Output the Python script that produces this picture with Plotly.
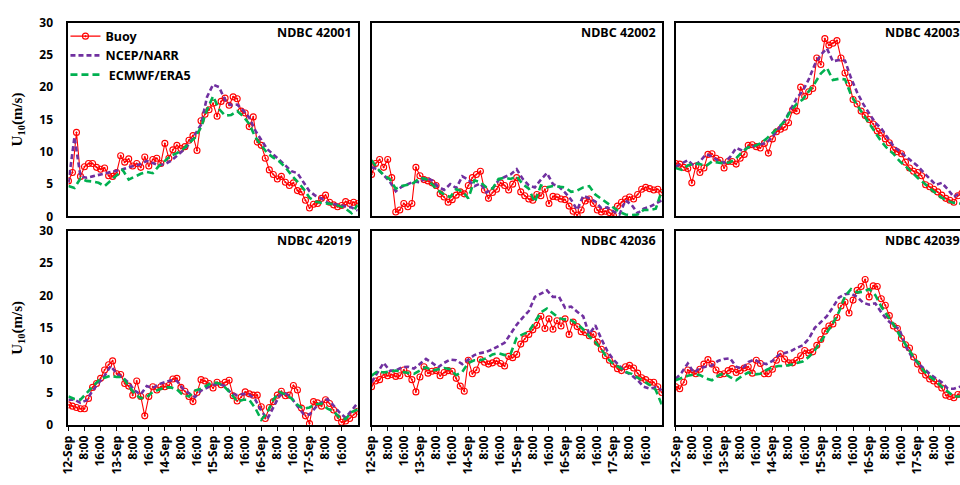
import plotly.graph_objects as go
from plotly.subplots import make_subplots

# ---- time base: 12-Sep 00:00 (hour 0) to 18-Sep 00:00 (hour 144) ----
BUOY_HOURS = list(range(0, 145, 2))     # buoy record, 2-hourly
MODEL_HOURS = list(range(0, 145, 3))    # reanalysis output, 3-hourly

TICK_HOURS = list(range(0, 137, 8))
TICK_TEXT = ["12-Sep", "8:00", "16:00", "13-Sep", "8:00", "16:00",
             "14-Sep", "8:00", "16:00", "15-Sep", "8:00", "16:00",
             "16-Sep", "8:00", "16:00", "17-Sep", "8:00", "16:00"]

STATIONS = ["NDBC 42001", "NDBC 42002", "NDBC 42003",
            "NDBC 42019", "NDBC 42036", "NDBC 42039"]

# ---- U10 wind speed (m/s) ----
buoy_42001 = [5.5, 6.8, 13.0, 6.2, 7.7, 8.2, 8.2, 7.6, 7.3, 7.5, 6.3, 6.2,
              6.8, 9.4, 8.4, 8.9, 7.8, 8.2, 7.6, 9.2, 7.8, 8.8, 9.0, 8.2,
              11.3, 9.0, 10.3, 11.0, 10.5, 10.8, 11.8, 12.5, 10.2, 14.8, 15.8, 16.5,
              17.5, 15.5, 17.8, 18.3, 17.2, 18.5, 18.2, 16.3, 16.0, 13.9, 15.4, 11.5,
              11.0, 9.0, 7.2, 6.5, 5.8, 6.2, 5.3, 4.8, 5.2, 4.0, 3.8, 2.5,
              1.3, 1.9, 2.0, 2.8, 3.3, 2.2, 1.8, 1.5, 1.7, 2.3, 2.0, 2.2,
              2.0]
narr_42001 = [5.2, 12.3, 6.2, 6.0, 6.2, 6.4, 6.6, 6.9,
              7.1, 7.3, 7.6, 7.9, 8.1, 8.6, 8.3, 7.9,
              8.1, 8.6, 9.4, 10.2, 11.2, 12.6, 14.2, 18.5,
              20.4, 20.0, 18.0, 17.2, 17.3, 16.4, 15.3, 13.3,
              11.8, 10.4, 9.6, 8.8, 7.9, 7.0, 6.7, 5.3,
              3.9, 3.2, 2.8, 2.1, 1.9, 1.8, 1.6, 1.4,
              0.9]
era5_42001 = [4.7, 4.4, 5.9, 5.5, 5.4, 5.2, 4.7, 5.5,
              6.3, 7.2, 5.7, 6.2, 6.6, 6.9, 6.7, 7.8,
              8.6, 9.4, 9.8, 10.4, 11.3, 12.2, 13.8, 16.5,
              18.6, 16.6, 15.6, 15.7, 16.3, 15.5, 14.3, 12.3,
              11.0, 9.8, 9.1, 8.5, 7.6, 6.4, 5.4, 4.3,
              2.9, 2.3, 2.1, 2.0, 1.9, 1.6, 1.2, 0.5,
              1.8]

buoy_42002 = [6.5, 8.2, 8.8, 7.6, 8.8, 6.0, 0.7, 1.0, 2.0, 1.5, 2.0, 7.6,
              6.3, 5.7, 5.5, 5.2, 4.8, 3.5, 3.0, 2.2, 2.6, 3.3, 3.8, 3.5,
              4.8, 6.0, 6.5, 7.0, 4.1, 2.8, 3.7, 4.2, 5.2, 4.8, 4.1, 5.0,
              6.0, 3.8, 3.2, 2.7, 2.5, 3.4, 3.2, 4.2, 2.0, 3.1, 3.0, 2.7,
              2.6, 1.6, 0.8, 0.2, 1.0, 2.4, 2.7, 2.0, 1.0, 0.7, 0.8, 0.6,
              0.1, 1.6, 2.2, 2.7, 3.0, 2.7, 3.4, 4.2, 4.5, 4.3, 4.1, 4.2,
              3.7]
narr_42002 = [7.6, 7.3, 6.4, 5.4, 3.9, 4.6, 5.0, 5.4,
              5.3, 6.0, 5.6, 4.6, 4.1, 5.0, 4.4, 6.2,
              5.7, 4.7, 5.1, 3.7, 4.3, 5.6, 6.1, 6.5,
              7.3, 5.8, 4.8, 4.5, 5.7, 6.7, 5.0, 4.6,
              3.7, 2.6, 1.0, 3.2, 2.8, 2.3, 1.3, 1.4,
              0.8, 0.3, 2.5, 1.8, 0.5, 1.2, 1.5, 2.0,
              2.5]
era5_42002 = [8.7, 7.4, 6.4, 5.8, 4.3, 4.7, 4.9, 5.2,
              6.0, 5.8, 5.0, 4.0, 3.4, 3.0, 4.2, 3.9,
              2.8, 5.6, 5.3, 4.5, 4.3, 5.8, 6.0, 5.8,
              6.2, 5.0, 4.3, 2.2, 4.8, 4.5, 4.7, 4.6,
              4.5, 3.8, 4.0, 4.5, 4.7, 3.4, 2.7, 2.0,
              1.3, 0.7, 0.3, 0.2, 0.3, 1.0, 1.0, 1.2,
              4.0]

buoy_42003 = [8.2, 8.1, 7.6, 7.4, 5.2, 7.8, 6.8, 7.5, 9.6, 9.7, 9.0, 8.7,
              7.5, 8.5, 8.5, 8.1, 9.0, 9.6, 11.0, 11.1, 10.8, 10.6, 11.3, 9.8,
              12.0, 13.1, 13.5, 13.8, 14.5, 16.5, 16.3, 20.0, 18.6, 19.3, 19.8, 24.5,
              23.5, 27.5, 26.5, 26.8, 27.2, 24.5, 22.2, 20.6, 18.1, 17.4, 16.3, 15.6,
              15.0, 14.3, 13.2, 12.9, 12.0, 11.4, 10.3, 10.0, 9.7, 8.4, 7.5, 7.0,
              6.8, 6.3, 4.9, 4.6, 4.2, 3.8, 3.3, 2.8, 2.5, 2.2, 3.2, 3.6,
              3.8]
narr_42003 = [7.7, 8.2, 8.7, 7.8, 8.5, 9.6, 9.3, 8.6,
              8.3, 9.2, 10.6, 10.2, 10.7, 10.9, 11.2, 11.4,
              12.3, 13.5, 14.8, 16.5, 18.3, 19.4, 21.2, 23.5,
              25.0, 26.0, 24.0, 24.2, 24.1, 21.4, 19.2, 17.4,
              15.9, 14.5, 13.6, 12.3, 10.9, 10.1, 9.3, 8.6,
              7.8, 6.8, 5.8, 4.9, 5.2, 4.2, 3.0, 3.7,
              3.5]
era5_42003 = [7.5, 7.2, 7.9, 8.2, 8.1, 7.8, 8.5, 8.3,
              8.2, 8.4, 9.0, 10.0, 10.7, 10.9, 11.3, 12.0,
              12.9, 13.8, 14.7, 16.3, 17.4, 18.1, 19.3, 20.6,
              22.1, 23.0, 21.1, 21.3, 21.2, 18.8, 17.2, 15.8,
              14.4, 13.0, 11.6, 10.5, 9.7, 8.6, 7.8, 6.9,
              6.0, 5.2, 4.3, 3.6, 2.9, 2.4, 2.1, 2.0,
              2.2]

buoy_42019 = [3.1, 2.9, 2.7, 2.5, 2.5, 4.1, 5.8, 6.4, 7.2, 8.5, 9.3, 9.9,
              7.9, 7.8, 6.4, 6.0, 4.6, 6.8, 4.4, 1.4, 4.4, 5.9, 5.4, 5.9,
              5.9, 6.1, 7.1, 7.2, 5.8, 5.2, 4.4, 3.6, 5.0, 7.0, 6.8, 6.4,
              5.7, 6.6, 6.2, 6.6, 6.9, 4.5, 3.7, 4.3, 5.1, 4.8, 4.6, 4.6,
              2.8, 1.0, 2.7, 3.6, 4.6, 5.2, 4.5, 4.6, 6.1, 5.4, 2.6, 1.4,
              0.2, 3.6, 3.4, 2.9, 3.9, 3.3, 2.3, 1.1, 0.4, 0.6, 1.0, 1.6,
              2.1]
narr_42019 = [3.9, 3.9, 3.4, 3.8, 5.3, 6.5, 7.6, 9.1,
              8.0, 7.3, 6.5, 5.3, 4.7, 6.0, 5.7, 6.3,
              6.6, 6.9, 6.8, 5.6, 4.9, 4.3, 5.3, 5.8,
              6.2, 6.3, 6.0, 4.9, 4.6, 4.8, 4.7, 3.9,
              2.2, 0.9, 2.6, 4.5, 4.9, 4.2, 2.9, 1.7,
              1.6, 2.7, 3.5, 4.0, 3.0, 1.9, 1.1, 2.2,
              3.4]
era5_42019 = [4.4, 4.0, 3.9, 4.9, 6.0, 6.9, 7.3, 7.6,
              7.4, 7.4, 6.0, 4.8, 4.1, 4.3, 5.1, 5.5,
              5.8, 5.8, 5.5, 4.6, 4.4, 5.3, 5.6, 6.1,
              6.6, 6.4, 5.8, 4.8, 3.6, 3.9, 3.9, 2.6,
              0.8, 1.9, 3.9, 5.1, 4.7, 4.1, 3.1, 2.5,
              2.7, 3.2, 3.3, 2.5, 2.1, 1.1, 0.9, 2.0,
              2.4]

buoy_42036 = [5.9, 6.8, 7.0, 7.8, 7.6, 7.8, 7.5, 7.6, 8.5, 7.9, 7.0, 5.1,
              7.4, 9.0, 8.0, 8.3, 8.4, 7.6, 8.1, 8.4, 8.3, 7.2, 6.0, 5.2,
              10.0, 7.9, 8.5, 10.1, 9.7, 9.4, 9.6, 9.9, 9.5, 9.1, 10.6, 10.4,
              10.9, 12.5, 13.3, 14.0, 14.7, 15.4, 16.8, 14.9, 16.4, 14.8, 16.1, 15.3,
              16.4, 14.0, 15.9, 15.2, 14.4, 14.3, 13.8, 14.0, 12.8, 11.7, 10.7, 10.0,
              9.4, 8.7, 8.4, 9.0, 9.2, 8.8, 8.0, 7.3, 7.0, 6.6, 6.6, 5.9,
              5.0]
narr_42036 = [6.6, 8.0, 9.6, 8.4, 8.4, 8.9, 9.0, 8.7,
              9.4, 10.2, 9.6, 8.9, 9.6, 10.1, 10.0, 9.4,
              10.1, 10.8, 11.1, 11.3, 11.7, 12.2, 12.7, 14.1,
              15.5, 16.6, 17.6, 19.8, 20.3, 20.8, 19.8, 19.8,
              18.1, 18.3, 17.5, 16.8, 14.0, 15.4, 13.3, 11.4,
              10.1, 9.1, 8.2, 7.7, 6.9, 5.9, 5.6, 5.8,
              5.4]
era5_42036 = [7.6, 8.3, 8.1, 8.3, 8.4, 8.2, 8.1, 7.9,
              8.4, 8.9, 8.4, 8.6, 8.8, 8.6, 7.7, 8.2,
              9.6, 10.0, 10.0, 10.3, 10.9, 11.1, 10.8, 11.0,
              13.5, 14.0, 14.4, 15.9, 17.4, 18.0, 17.3, 16.5,
              16.3, 16.2, 15.6, 14.8, 13.7, 12.8, 11.7, 10.3,
              9.4, 8.9, 8.2, 7.9, 7.3, 6.7, 6.2, 5.4,
              3.1]

buoy_42039 = [5.9, 5.6, 6.6, 8.5, 8.1, 7.9, 8.6, 9.4, 10.1, 9.4, 8.5, 7.8,
              7.9, 8.4, 8.7, 8.1, 8.4, 8.8, 9.0, 8.0, 10.0, 9.5, 7.9, 7.9,
              8.6, 10.0, 11.0, 10.2, 9.6, 9.6, 10.0, 10.7, 11.5, 11.1, 11.3, 12.3,
              13.2, 14.5, 15.3, 15.6, 16.6, 18.4, 19.0, 17.3, 19.3, 20.8, 21.4, 22.5,
              19.8, 21.5, 21.4, 19.5, 18.5, 16.9, 15.3, 14.9, 13.4, 12.4, 11.9, 10.5,
              9.4, 8.4, 7.7, 7.1, 6.8, 6.3, 5.7, 4.6, 4.4, 4.2, 4.7, 4.8,
              5.0]
narr_42039 = [7.1, 8.1, 9.5, 8.1, 8.8, 9.0, 9.2, 9.9,
              10.2, 10.3, 9.0, 8.7, 9.7, 10.1, 9.6, 9.4,
              9.9, 10.8, 11.1, 11.4, 11.9, 12.3, 13.3, 15.0,
              15.9, 16.8, 18.2, 19.7, 20.2, 20.3, 19.8, 18.9,
              18.6, 18.8, 17.4, 16.2, 15.4, 14.8, 12.2, 10.6,
              9.6, 8.7, 7.9, 7.2, 6.6, 5.6, 5.6, 5.9,
              6.0]
era5_42039 = [6.9, 7.3, 7.6, 7.8, 7.7, 7.2, 6.9, 7.6,
              8.0, 7.4, 6.9, 7.6, 8.1, 7.8, 7.9, 8.5,
              8.9, 9.1, 9.1, 9.3, 9.5, 9.8, 10.5, 11.5,
              12.9, 14.3, 15.7, 17.5, 19.9, 21.0, 20.5, 20.6,
              21.0, 20.1, 18.3, 16.9, 15.6, 13.9, 12.4, 11.0,
              9.7, 8.4, 7.5, 6.8, 5.9, 5.1, 4.4, 4.4,
              4.5]

BUOY = [buoy_42001, buoy_42002, buoy_42003, buoy_42019, buoy_42036, buoy_42039]
NARR = [narr_42001, narr_42002, narr_42003, narr_42019, narr_42036, narr_42039]
ERA5 = [era5_42001, era5_42002, era5_42003, era5_42019, era5_42036, era5_42039]

for series in BUOY:
    assert len(series) == len(BUOY_HOURS), len(series)
for series in NARR + ERA5:
    assert len(series) == len(MODEL_HOURS), len(series)

RED = "#ff0000"
PURPLE = "#7030a0"
GREEN = "#00b050"
SANS = "Noto Sans"
SERIF = "Liberation Serif"

W, H = 960, 485
# panel frames in pixels: (left, right) per column, (top, bottom) per row
COLS = [(60, 352), (366, 659), (673, 966)]
ROWS = [(14, 215), (230, 431)]

fig = make_subplots(rows=2, cols=3)

for i in range(6):
    r, c = divmod(i, 3)
    first = (i == 0)
    fig.add_trace(go.Scatter(
        x=BUOY_HOURS, y=BUOY[i], name="Buoy", mode="lines+markers",
        line=dict(color=RED, width=1.1),
        marker=dict(symbol="circle-open-dot", size=6, color=RED,
                    line=dict(color=RED, width=1.1)),
        showlegend=first, legendrank=1), row=r + 1, col=c + 1)
    fig.add_trace(go.Scatter(
        x=MODEL_HOURS, y=NARR[i], name="NCEP/NARR", mode="lines",
        line=dict(color=PURPLE, width=2.6, dash="5px,3px"),
        showlegend=first, legendrank=2), row=r + 1, col=c + 1)
    fig.add_trace(go.Scatter(
        x=MODEL_HOURS, y=ERA5[i], name="\u00a0ECMWF/ERA5", mode="lines",
        line=dict(color=GREEN, width=2.6, dash="7px,4px"),
        showlegend=first, legendrank=3), row=r + 1, col=c + 1)

annotations = []
for i in range(6):
    r, c = divmod(i, 3)
    left, right = COLS[c]
    top, bottom = ROWS[r]
    visible_right = min(right, W)
    x_span = 144 * (visible_right - left) / (right - left)
    suffix = "" if i == 0 else str(i + 1)
    xa = dict(
        anchor="y" + suffix,
        domain=[left / W, visible_right / W], range=[0, x_span],
        showgrid=False, zeroline=False,
        showline=True, linecolor="black", linewidth=2, mirror=True,
        tickmode="array", tickvals=TICK_HOURS, ticktext=TICK_TEXT,
        showticklabels=(r == 1), ticks="outside" if r == 1 else "",
        ticklen=4, tickcolor="black", tickwidth=1, tickangle=-90,
        tickfont=dict(family=SANS, size=12, color="black", weight="bold"),
    )
    ya = dict(
        anchor="x" + suffix,
        domain=[1 - bottom / H, 1 - top / H], range=[0, 30],
        showgrid=False, zeroline=False,
        showline=True, linecolor="black", linewidth=2, mirror=(right <= W),
        tickmode="array", tickvals=[0, 5, 10, 15, 20, 25, 30],
        showticklabels=(c == 0), ticks="", ticklabelstandoff=11,
        tickfont=dict(family=SANS, size=12, color="black", weight="bold"),
    )
    if c == 0:
        ya["title"] = dict(text="U<sub>10</sub>(m/s)", standoff=13,
                           font=dict(family=SERIF, size=15, color="black",
                                     weight="bold"))
    fig.layout["xaxis" + suffix] = xa
    fig.layout["yaxis" + suffix] = ya

    annotations.append(dict(
        text=STATIONS[i], xref="paper", yref="paper",
        x=(right - 4) / W, y=1 - (top + 10) / H,
        xanchor="right", yanchor="middle", showarrow=False,
        font=dict(family=SANS, size=12.5, color="black", weight="bold")))

fig.update_layout(
    width=W, height=H, margin=dict(l=0, r=0, t=0, b=0),
    paper_bgcolor="white", plot_bgcolor="white",
    annotations=annotations,
    legend=dict(x=57 / W, y=1 - 13 / H, xanchor="left", yanchor="top",
                bgcolor="rgba(0,0,0,0)", itemwidth=30, tracegroupgap=0,
                font=dict(family=SANS, size=12.5, color="black", weight="bold")),
)

fig.write_html("out.html")
